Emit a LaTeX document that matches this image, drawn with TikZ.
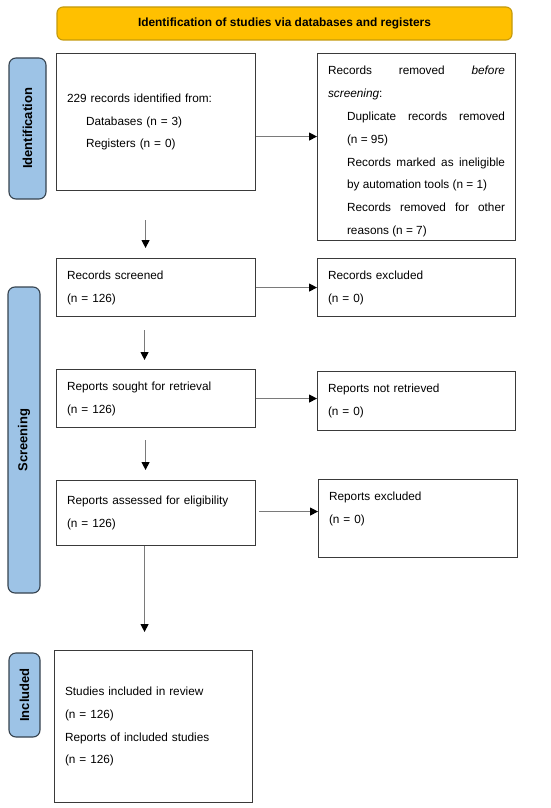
\documentclass[tikz,border=0pt]{standalone}
\usepackage{fontspec}
\setmainfont{Liberation Sans}
\usetikzlibrary{arrows.meta}
\setlength{\parindent}{0pt}
\hyphenpenalty=10000
\exhyphenpenalty=10000
\definecolor{banner}{HTML}{FFC000}
\definecolor{bannerline}{HTML}{C49A0C}
\definecolor{phase}{HTML}{9DC3E6}
\definecolor{phaseline}{HTML}{36434F}
\definecolor{boxline}{HTML}{3A3A3A}
\definecolor{arrline}{HTML}{7A7A7A}
\tikzset{
  stagebox/.style={draw=boxline, line width=1.1pt, inner xsep=10.5pt, inner ysep=0pt,
    anchor=north west, align=left, font=\fontsize{11.8}{22.8}\selectfont},
  phasebox/.style={draw=phaseline, fill=phase, line width=1.1pt, rounded corners=7pt,
    rotate=90, inner sep=0pt, font=\bfseries\fontsize{13}{15}\selectfont},
  flowarrow/.style={draw=arrline, line width=1.2pt,
    -{Triangle[length=8pt,width=8pt,color=black,fill=black]}},
}
\begin{document}
\begin{tikzpicture}[x=1pt,y=-1pt]
\useasboundingbox (0,0) rectangle (550,808);

% banner
\node[draw=bannerline, fill=banner, line width=1.1pt, rounded corners=6pt,
  minimum width=455pt, minimum height=33pt, inner sep=0pt,
  font=\bfseries\fontsize{11.9}{14}\selectfont] (banner) at (284.5,23.5)
  {Identification of studies via databases and registers};

% phase labels
\node[phasebox, minimum width=141pt, minimum height=37pt] (phid) at (27.5,128.5) {Identification};
\node[phasebox, minimum width=306pt, minimum height=32pt] (phscr) at (24,440) {Screening};
\node[phasebox, minimum width=84pt, minimum height=31pt] (phinc) at (24.5,695) {Included};

% boxes
\node[stagebox, text width=178pt, minimum height=137pt] (ident) at (56,53)
  {229 records identified from:\par
   \hspace*{19pt}Databases (n = 3)\par
   \hspace*{19pt}Registers (n = 0)};

\node[stagebox, text width=177pt, minimum height=187pt, align=justify] (removed) at (317,53)
  {\rule{0pt}{9pt}\par\nointerlineskip
   Records removed \textit{before screening}:\par
   {\leftskip=19pt Duplicate records removed (n~=~95)\par
   Records marked as ineligible by automation tools (n~=~1)\par
   Records removed for other reasons (n~=~7)\par}};

\node[stagebox, text width=178pt, minimum height=58pt] (screened) at (56,258)
  {Records screened\par(n = 126)};
\node[stagebox, text width=177pt, minimum height=58pt] (excluded) at (317,258)
  {Records excluded\par(n = 0)};

\node[stagebox, text width=178pt, minimum height=58pt] (sought) at (56,369)
  {Reports sought for retrieval\par(n = 126)};
\node[stagebox, text width=177pt, minimum height=59pt] (notret) at (317,371)
  {Reports not retrieved\par(n = 0)};

\node[stagebox, text width=178pt, minimum height=65pt] (assessed) at (56,480)
  {Reports assessed for eligibility\par(n = 126)};
\node[stagebox, text width=178pt, minimum height=78pt] (repexcl) at (318,479)
  {Reports excluded\par(n = 0)\par\nointerlineskip\rule{0pt}{20pt}};

\node[stagebox, text width=177pt, minimum height=152pt] (included) at (54,650)
  {Studies included in review\par(n = 126)\par
   Reports of included studies\par(n = 126)};

% connectors
\draw[flowarrow] ([yshift=-14.5pt]ident.east) -- ([yshift=-14.5pt]ident.east -| removed.west);
\draw[flowarrow] (screened.east) -- (screened.east -| excluded.west);
\draw[flowarrow] (sought.east) -- (sought.east -| notret.west);
\draw[flowarrow, shorten <=3pt] ([yshift=1.5pt]assessed.east) -- ([yshift=1.5pt]assessed.east -| repexcl.west);

\draw[flowarrow, shorten <=29pt, shorten >=10pt] ([xshift=-10.5pt]ident.south) -- ([xshift=-10.5pt]ident.south |- screened.north);
\draw[flowarrow, shorten <=13pt, shorten >=9pt] ([xshift=-11.5pt]screened.south) -- ([xshift=-11.5pt]screened.south |- sought.north);
\draw[flowarrow, shorten <=12pt, shorten >=10pt] ([xshift=-10.5pt]sought.south) -- ([xshift=-10.5pt]sought.south |- assessed.north);
\draw[flowarrow, shorten >=18pt] ([xshift=-11.5pt]assessed.south) -- ([xshift=-11.5pt]assessed.south |- included.north);
\end{tikzpicture}
\end{document}
